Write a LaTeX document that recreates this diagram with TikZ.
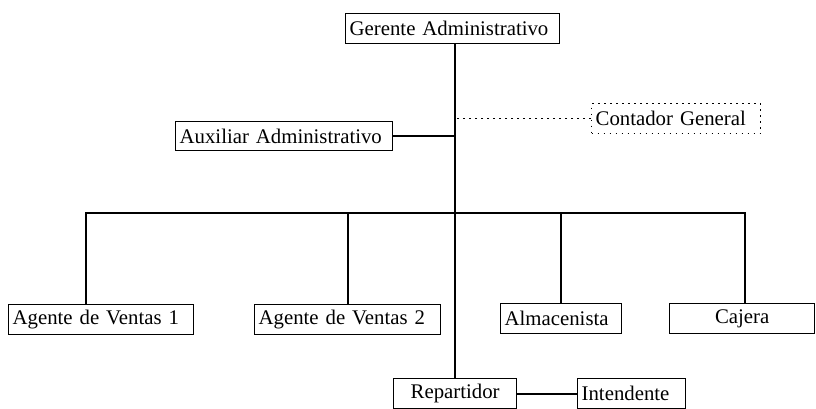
\documentclass[tikz,border=0pt]{standalone}
\usepackage{fontspec}
\setmainfont{Liberation Serif}
\begin{document}
\begin{tikzpicture}[
  x=1pt, y=-1pt,
  puesto/.style={draw, line width=1.3pt, anchor=north west, inner sep=4pt, minimum height=30pt, align=left, font=\fontsize{20.8}{24}\selectfont},
  linea/.style={line width=1.7pt},
  punteada/.style={line width=1.7pt, dash pattern=on 1.7pt off 4.3pt}
]
\useasboundingbox (0,0) rectangle (816,409);
\node[puesto, text width=206pt] (ger) at (345,13) {Gerente Administrativo};
\node[puesto, text width=209pt, minimum height=29pt] (aux) at (175,121) {Auxiliar Administrativo};
\node[puesto, text width=161pt, punteada, line width=1.3pt] (cont) at (591,103) {Contador General};
\node[puesto, text width=177pt] (ag1) at (8,304) {Agente de Ventas 1};
\node[puesto, text width=178pt] (ag2) at (254,304) {Agente de Ventas 2};
\node[puesto, text width=113pt] (alm) at (500,303) {Almacenista};
\node[puesto, text width=137pt, align=center] (caj) at (669,303) {Cajera};
\node[puesto, text width=115pt, align=center] (rep) at (393,378) {Repartidor};
\node[puesto, text width=100pt] (int) at (577,378) {Intendente};
\coordinate (barL) at (86,213);
\coordinate (barR) at (745,213);
% tronco principal
\draw[linea] (rep.north) -- (rep.north |- ger.south);
\draw[linea] (aux.east) -- (aux.east -| rep.north);
\draw[punteada] (cont.west) -- (cont.west -| rep.north);
% barra de departamentos
\draw[linea] (barL |- ag1.north) -- (barL) -- (barR) -- (barR |- caj.north);
\draw[linea] (ag2.north) -- (ag2.north |- barL);
\draw[linea] (alm.north) -- (alm.north |- barL);
\draw[linea] (rep.east) -- (int.west);
\end{tikzpicture}
\end{document}
